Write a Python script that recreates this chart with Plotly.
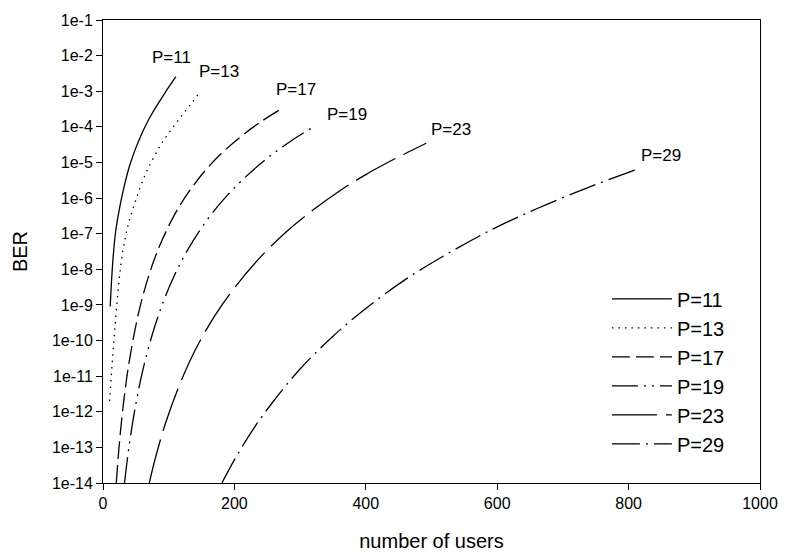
import plotly.graph_objects as go

# ---- data (BER given as log10 values) ----
names = ["P=11", "P=13", "P=17", "P=19", "P=23", "P=29"]

x_p11 = [11, 13, 15, 17.5, 20, 24, 28, 32, 40, 50, 60, 70, 80, 90, 100, 111]
logber_p11 = [-9.04, -8.32, -7.76, -7.22, -6.84, -6.40, -6.02, -5.69, -5.12, -4.59,
              -4.15, -3.78, -3.46, -3.17, -2.885, -2.59]

x_p13 = [10, 12.6, 15, 17.6, 21, 25, 30, 35, 40, 50, 64, 78, 90, 105, 120, 135, 148]
logber_p13 = [-11.70, -11.0, -10.38, -9.76, -9.0, -8.22, -7.5, -7.02, -6.63, -6.05,
              -5.35, -4.83, -4.44, -4.05, -3.68, -3.33, -3.01]

x_p17 = [20.2, 23, 26, 30, 35, 40, 50, 60, 75, 90, 110, 130, 155, 180, 210, 240, 269]
logber_p17 = [-14.0, -13.31, -12.67, -11.95, -11.20, -10.58, -9.58, -8.79, -7.88,
              -7.18, -6.43, -5.84, -5.24, -4.75, -4.27, -3.86, -3.52]

x_p19 = [32.7, 37, 42, 50, 60, 75, 90, 110, 130, 155, 185, 215, 250, 285, 321.5]
logber_p19 = [-14.0, -13.34, -12.67, -11.78, -10.88, -9.83, -9.00, -8.12, -7.42,
              -6.70, -6.01, -5.44, -4.88, -4.41, -3.99]

x_p23 = [70.4, 80, 95, 115, 140, 170, 200, 240, 280, 320, 360, 400, 445, 492]
logber_p23 = [-14.0, -13.28, -12.33, -11.31, -10.28, -9.31, -8.52, -7.65, -6.93,
              -6.33, -5.80, -5.34, -4.89, -4.46]

x_p29 = [181, 200, 230, 260, 300, 350, 400, 460, 520, 590, 660, 740, 813]
logber_p29 = [-14.0, -13.35, -12.45, -11.69, -10.80, -9.88, -9.10, -8.29, -7.61,
              -6.90, -6.30, -5.69, -5.19]

# curve labels (x, log10 of BER at the label centre)
label_x = [105, 177, 293, 371, 530, 850]
label_logy = [-2.06, -2.45, -2.96, -3.66, -4.08, -4.81]

y_tickvals = [1e-14, 1e-13, 1e-12, 1e-11, 1e-10, 1e-9, 1e-8, 1e-7, 1e-6, 1e-5,
              1e-4, 1e-3, 1e-2, 1e-1]
y_ticktext = ["1e-14", "1e-13", "1e-12", "1e-11", "1e-10", "1e-9", "1e-8",
              "1e-7", "1e-6", "1e-5", "1e-4", "1e-3", "1e-2", "1e-1"]
x_tickvals = [0, 200, 400, 600, 800, 1000]

xs = [x_p11, x_p13, x_p17, x_p19, x_p23, x_p29]
logs = [logber_p11, logber_p13, logber_p17, logber_p19, logber_p23, logber_p29]
dashes = ["solid", "1.5px,5px", "18px,6px", "26px,6px,2px,6px,2px,6px",
          "45px,9px", "28px,6px,2px,6px"]

FONT = "Liberation Sans, Arial, sans-serif"

fig = go.Figure()
for n, x, lg, d in zip(names, xs, logs, dashes):
    fig.add_trace(go.Scatter(
        x=x, y=[10 ** v for v in lg], name=n, mode="lines",
        line=dict(color="black", width=1.3, dash=d, shape="spline", smoothing=1.0),
    ))

for n, lx, ly in zip(names, label_x, label_logy):
    fig.add_annotation(x=lx, y=ly, text=n, showarrow=False,
                       xanchor="center", yanchor="middle",
                       font=dict(family=FONT, size=17, color="black"))

fig.update_layout(
    width=790, height=560,
    margin=dict(l=103, r=23, t=20, b=76),
    paper_bgcolor="white", plot_bgcolor="white",
    font=dict(family=FONT, color="black"),
    showlegend=True,
    legend=dict(x=0.767, y=0.44, xanchor="left", yanchor="top",
                bgcolor="rgba(0,0,0,0)", borderwidth=0,
                font=dict(family=FONT, size=20, color="black"),
                itemwidth=60, tracegroupgap=0),
)

fig.update_xaxes(
    range=[0, 1000], tickvals=x_tickvals, ticks="outside", ticklen=6,
    tickcolor="black", showline=True, linecolor="black", linewidth=1,
    mirror=True, showgrid=False, zeroline=False,
    tickfont=dict(family=FONT, size=16, color="black"),
    title=dict(text="number of users", font=dict(family=FONT, size=20, color="black"),
               standoff=22),
)
fig.update_yaxes(
    type="log", range=[-14, -1], tickvals=y_tickvals, ticktext=y_ticktext,
    ticks="outside", ticklen=6, tickcolor="black",
    showline=True, linecolor="black", linewidth=1, mirror=True,
    showgrid=False, zeroline=False,
    tickfont=dict(family=FONT, size=16, color="black"),
    title=dict(text="BER", font=dict(family=FONT, size=20, color="black"),
               standoff=18),
)

fig.write_html("out.html")
